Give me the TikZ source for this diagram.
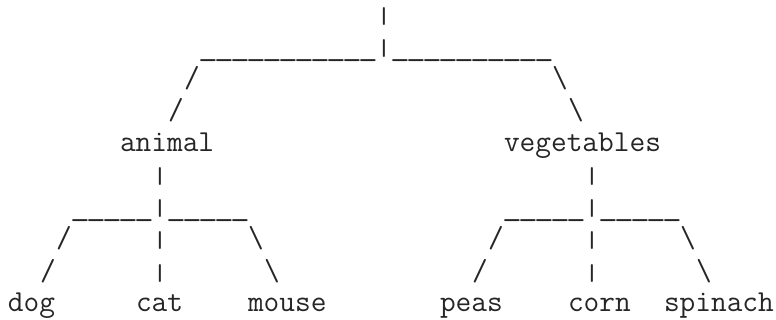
\documentclass[tikz,border=0pt]{standalone}
\usepackage{graphicx}
\newcommand\ub{\makebox[0.525em][c]{\scalebox{1.26}[1]{\_}}}
\newcommand\vb{\makebox[0.525em][c]{\scalebox{1}[0.75]{\textbar}}}
\begin{document}
\begin{tikzpicture}[x=0.5pt,y=-0.5pt,
  ch/.style={anchor=base west,inner sep=0pt,outer sep=0pt,
    font=\fontsize{15.24pt}{16pt}\fontseries{l}\selectfont\ttfamily,text=black!85}]
\useasboundingbox (0,0) rectangle (776,320);
% column c -> x = 8+16c ; row r -> baseline y = 24+32r
% row 0
\node[ch] (rootbar) at ({8+16*23},{24+32*0}) {\vb};
% row 1
\node[ch] (rootbranch) at ({8+16*12},{24+32*1}) {\ub\ub\ub\ub\ub\ub\ub\ub\ub\ub\ub\vb\ub\ub\ub\ub\ub\ub\ub\ub\ub\ub};
% row 2
\node[ch] (ls1) at ({8+16*11},{24+32*2}) {/};
\node[ch] (rs1) at ({8+16*34},{24+32*2}) {\textbackslash};
% row 3
\node[ch] (ls2) at ({8+16*10},{24+32*3}) {/};
\node[ch] (rs2) at ({8+16*35},{24+32*3}) {\textbackslash};
% row 4
\node[ch] (animal) at ({8+16*7},{24+32*4}) {animal};
\node[ch] (vegetables) at ({8+16*31},{24+32*4}) {vegetables};
% row 5
\node[ch] (abar) at ({8+16*9},{24+32*5}) {\vb};
\node[ch] (vbar) at ({8+16*36},{24+32*5}) {\vb};
% row 6
\node[ch] (abranch) at ({8+16*4},{24+32*6}) {\ub\ub\ub\ub\ub\vb\ub\ub\ub\ub\ub};
\node[ch] (vbranch) at ({8+16*31},{24+32*6}) {\ub\ub\ub\ub\ub\vb\ub\ub\ub\ub\ub};
% row 7
\node[ch] (al1) at ({8+16*3},{24+32*7}) {/};
\node[ch] (am1) at ({8+16*9},{24+32*7}) {\vb};
\node[ch] (ar1) at ({8+16*15},{24+32*7}) {\textbackslash};
\node[ch] (vl1) at ({8+16*30},{24+32*7}) {/};
\node[ch] (vm1) at ({8+16*36},{24+32*7}) {\vb};
\node[ch] (vr1) at ({8+16*42},{24+32*7}) {\textbackslash};
% row 8
\node[ch] (al2) at ({8+16*2},{24+32*8}) {/};
\node[ch] (am2) at ({8+16*9},{24+32*8}) {\vb};
\node[ch] (ar2) at ({8+16*16},{24+32*8}) {\textbackslash};
\node[ch] (vl2) at ({8+16*29},{24+32*8}) {/};
\node[ch] (vm2) at ({8+16*36},{24+32*8}) {\vb};
\node[ch] (vr2) at ({8+16*43},{24+32*8}) {\textbackslash};
% row 9
\node[ch] (dog) at ({8+16*0},{24+32*9}) {dog};
\node[ch] (cat) at ({8+16*8},{24+32*9}) {cat};
\node[ch] (mouse) at ({8+16*15},{24+32*9}) {mouse};
\node[ch] (peas) at ({8+16*27},{24+32*9}) {peas};
\node[ch] (corn) at ({8+16*35},{24+32*9}) {corn};
\node[ch] (spinach) at ({8+16*41},{24+32*9}) {spinach};
\end{tikzpicture}
\end{document}
